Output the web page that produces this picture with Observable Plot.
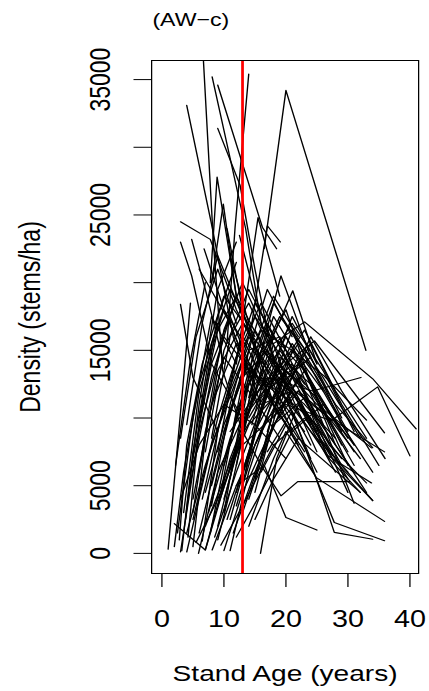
<!DOCTYPE html>
<html>
<head>
<meta charset="utf-8">
<script src="https://cdn.jsdelivr.net/npm/d3@7"></script>
<script src="https://cdn.jsdelivr.net/npm/@observablehq/plot@0.6"></script>
<style>
  html, body { margin: 0; padding: 0; background: #fff; }
</style>
</head>
<body>
<div id="chart"></div>
<script>
// ---- data: each stand is a list of [age (years), density (stems/ha)] remeasurements ----
const decliningStands = [
  [[4.0,33100],[8.1,24100],[11.5,16000],[15.5,11000]],
  [[6.6,37200],[8.3,23000],[9.8,13500],[13,9000]],
  [[8.1,35200],[13.5,24000],[16,17000],[21,11000]],
  [[9.0,34600],[16.2,24100],[18.5,22500]],
  [[9.0,31400],[12.6,27200],[15,21000],[19,12000]],
  [[10.5,15500],[11.8,24100],[14.0,35400]],
  [[7.8,20000],[8.9,27800],[12,19000]],
  [[3.0,24500],[7.8,23200],[12,18000],[17,13500]],
  [[3.0,23000],[4.8,20500],[8,14000],[13,10000]],
  [[4.8,23200],[7,19500],[10,14000]],
  [[3.0,18400],[5,13000],[9,9000]],
  [[16.5,22500],[20,34200],[32.9,15000]],
  [[14.5,17000],[17,24200],[19.1,23000]],
  [[12,14000],[15.5,24800],[19,19000]],
  [[8,20000],[9.9,25800],[12,19000]],
  [[6.8,22500],[10,18000],[15,12500]],
  [[10.5,24000],[13,18000],[17,12000]],
  [[11,22000],[14,17000],[18,11000],[22,8000]],
  [[12.5,23500],[15,19000],[20,13000]],
  [[6,21000],[11,17000],[16,11000]]
];

const youngRiseStands = [
  [[1.0,300],[4.6,18500]],
  [[2.0,2200],[7.0,250],[12,8000],[17,12000]],
  [[3.0,100],[6,9000],[10,16000],[15,13000]],
  [[4.0,100],[8,8000],[13,14000],[18,12000],[23,9000]],
  [[5.9,0],[9,6000],[14,11000],[19,14000],[25,9000]],
  [[7.0,250],[11,7000],[16,13000],[21,11000],[27,7000]],
  [[8.1,250],[12,5000],[17,10000],[22,12000],[28,8000]],
  [[10,200],[13,4500],[18,9500],[23,11500],[29,6500]],
  [[11,200],[14,6000],[19,13000],[24,10000],[30,5500]],
  [[15.9,0],[18.5,7000],[22,11000],[28,6000]],
  [[2.5,1500],[5,10000],[8,17500],[12,14000]],
  [[3.5,3000],[6,12000],[10,18000],[14,15000],[19,10000]],
  [[4.5,5000],[8,13000],[12,19000],[16,14000],[21,9000]],
  [[2.2,6500],[4.5,14000],[7,20000]],
  [[3,8500],[5.5,16000],[9,21000],[12,17000]],
  [[5,2500],[9,10000],[13,16000],[18,13000],[24,8000]],
  [[6,1500],[10,9000],[14,15000],[19,16000],[25,10000],[31,6000]],
  [[6.5,4000],[10,11000],[15,17500],[20,14000],[26,9500]],
  [[7.5,3000],[11,8500],[16,15000],[21,13000],[27,8000],[33,5200]],
  [[8.5,1200],[12,6000],[17,12000],[22,15500],[28,11000],[34,7800]],
  [[9,3500],[13,9000],[18,16000],[23,13500],[29,9000]],
  [[9.5,600],[13,3500],[18,8000],[23,10000],[28,7000],[34,3900]],
  [[10.5,2500],[14,7500],[19,14500],[24,12500],[30,8500]],
  [[11.5,1500],[15,6000],[20,11500],[25,9500],[30,4500]],
  [[12,4500],[16,10500],[21,16500],[26,13000],[32,8500]],
  [[13,3000],[17,8500],[22,13000],[26.5,7300],[33.8,5200]],
  [[13.5,6000],[17,12500],[21,17500],[25,14000]],
  [[5,4000],[8,11000],[12,15500],[17,12000],[22,8500]],
  [[6,6000],[9,13500],[13,17000],[18,14000],[23,10500],[29,7000]],
  [[7,2000],[10,5500],[15,11500],[20,16000],[25,12000]],
  [[8,5000],[12,12000],[16,16500],[21,15000],[26,11000],[31,7500]],
  [[9,7500],[12,14500],[15,18500],[20,14500],[25,10000]],
  [[10,4000],[14,10500],[18,13000],[23,11000],[28,8500]],
  [[10,9000],[13,13000],[17,15000],[22,11500],[27,7000],[32,4500]],
  [[11,5500],[14,12500],[19,17500],[24,14500],[29,10000]],
  [[12,3500],[15,8000],[20,13500],[25,11500],[30,7500]],
  [[13,5000],[16,11500],[21,14000],[26,10500],[31,6500]],
  [[7,7500],[10,15000],[14,19500],[18,16000]],
  [[4,1500],[7,6500],[11,12000],[15,16500],[20,12500],[25,7500]],
  [[5.5,800],[9,4000],[14,9500],[19,12000],[24,9000],[30,6000]],
  [[3,4000],[6,8000],[10,11000],[15,9500],[20,7000]],
  [[6,10000],[9,16500],[12,19000],[16,15500],[21,11000]],
  [[8,8500],[11,16000],[14,18500],[19,13500],[24,9500]],
  [[9,2000],[12,7500],[16,13500],[21,17000],[26,13500],[31,9000]],
  [[11,2500],[15,9000],[19,12500],[24,14500],[29,9500],[34,6000]],
  [[12,1200],[16,4500],[21,9000],[26,11000],[31,8000]],
  [[14,4000],[18,9500],[22,12000],[27,10000],[32,7000]],
  [[15,2500],[18,5500],[22,8500],[27,6500],[32,4500]],
  [[14,11500],[19.2,20500],[24,14500]],
  [[16,14000],[21.1,19400],[25,14000]],
  [[10,6500],[14,13500],[18,18500],[22,15500],[26,12000]],
  [[7,4500],[10,9500],[14,14000],[18,11000],[23,7500]],
  [[5,7000],[8,14000],[11,17500],[15,13000],[20,9500]],
  [[4,9500],[6.5,17000],[9,22000],[13,17500]],
  [[2.8,1000],[4,8000],[6.5,14000],[10,19000],[14,16500]],
  [[2,500],[3.5,6000],[6,12500],[9,17000]],
  [[3.2,200],[5,7500],[8,15500],[11,19500],[15,16000]],
  [[4.2,1200],[6,9500],[9,17500],[12,21500]],
  [[5,500],[7.5,10500],[10,16500],[13,20000],[17,16000]],
  [[6.5,900],[9,9000],[12,14500],[16,18500],[20,15000]],
  [[7.8,1500],[10,6500],[13,11500],[17,17000],[21,13500]],
  [[9,1000],[11.5,5500],[15,12500],[19,15000],[23,12500]],
  [[3.8,2500],[6,11000],[9,19500],[12,23000]],
  [[10,3000],[12.5,9500],[15,15500],[18,19000],[22,16000]],
  [[12,6500],[15,13500],[18,17500],[22,14500],[26,10500],[30,6500]],
  [[8,3500],[11,11000],[14,16000],[19,12500],[24,7000]],
  [[11,8000],[14,15000],[17,19500],[21,16000]],
  [[13,9500],[16,14500],[20,18000],[24,12500],[29,8000]],
  [[5,3000],[7,9000],[10,14500],[14,12000],[19,8500]],
  [[9.5,4500],[12,10500],[16,14500],[20,10500],[25,6000]],
  [[14,7000],[17,12000],[21,15500],[25,13000],[30,9000]],
  [[15,5500],[18,10500],[22,14500],[26,12000],[31,8000]]
];

const oldStands = [
  [[14,2000],[18,7000],[20,9000],[24.9,5600],[35.9,2360]],
  [[15,4500],[19,11500],[24,15500],[29,11000],[35,6500]],
  [[16,7000],[20,14000],[24.6,15700],[35.9,8900]],
  [[17,9000],[21,15000],[26.2,13100],[33,9850]],
  [[14.5,9500],[18,15500],[23,17100],[34,12900],[41,9200]],
  [[13,8000],[20,11000],[27.3,9800],[34.8,12300],[40,7200]],
  [[11,9000],[17,13000],[24.3,12000],[32.1,13000]],
  [[15,8000],[20,12500],[27,10000],[35.9,7500]],
  [[14,10000],[19,14000],[25,11000],[33.8,7800]],
  [[13,9000],[16,6500],[19.2,4250],[21.9,5300],[30.3,5300]],
  [[12,5000],[16.5,6500],[20,2650],[25,1720]],
  [[16,6000],[20,9500],[24.6,5860],[27.8,2280],[35.9,930]],
  [[17,7500],[21,10500],[25.2,5100],[27.8,1550],[34,1050]],
  [[16,11000],[21,12000],[27.3,7100],[34,3900]],
  [[17,12000],[22,14000],[26.5,9000],[31,3700]],
  [[18,10000],[23,13500],[28,8000],[33,4500]],
  [[19,11000],[24,16000],[29,12000],[36,7000]],
  [[18,13000],[23,16500],[28,12000],[33,8500]]
];

const xTicks = [0, 10, 20, 30, 40];
const yTicks = [0, 5000, 10000, 15000, 20000, 25000, 30000, 35000];
const yTickLabels = [0, 5000, 15000, 25000, 35000];
const referenceAge = [13];

const titleText = "(AW\u2212c)";
const xTitle = "Stand Age (years)";
const yTitle = "Density (stems/ha)";

// ---- build table ----
const rows = [];
let sid = 0;
for (const group of [decliningStands, youngRiseStands, oldStands]) {
  for (const stand of group) {
    for (const [age, density] of stand) rows.push({id: sid, age, density});
    sid++;
  }
}

// The reference image is horizontally stretched; draw in a narrower space then stretch.
const OUT_W = 429, H = 691, K = 1.25;
const W = OUT_W / K;

const chart = Plot.plot({
  width: W,
  height: H,
  marginLeft: 120.8,
  marginRight: W - 334.4,
  marginTop: 60,
  marginBottom: 118,
  x: {domain: [-1.66, 41.4]},
  y: {domain: [-1486, 36410]},
  style: {
    fontFamily: "'Liberation Sans', Arial, Helvetica, sans-serif",
    fontSize: "23px",
    color: "black",
    background: "white"
  },
  marks: [
    Plot.line(rows, {x: "age", y: "density", z: "id", stroke: "black", strokeWidth: 1.1, clip: true}),
    Plot.ruleX(referenceAge, {stroke: "#ff0000", strokeWidth: 2.2}),
    Plot.frame({stroke: "black", strokeWidth: 1}),
    Plot.axisX(xTicks, {tickSize: 14, fill: "none", label: null, stroke: "black"}),
    Plot.axisY(yTicks, {tickSize: 14, fill: "none", label: null, stroke: "black"}),
    Plot.text(xTicks, {x: d => d, text: d => String(d), frameAnchor: "bottom", dy: 37, lineAnchor: "top", fontSize: 23, fill: "black"}),
    Plot.text(yTickLabels, {y: d => d, text: d => String(d), frameAnchor: "left", dx: -40.8, rotate: -90, textAnchor: "middle", lineAnchor: "middle", fontSize: 23, fill: "black"}),
    Plot.text([xTitle], {text: d => d, frameAnchor: "bottom", dy: 92, lineAnchor: "top", fontSize: 22.5, fill: "black"}),
    Plot.text([yTitle], {text: d => d, frameAnchor: "left", dx: -97, rotate: -90, textAnchor: "middle", lineAnchor: "middle", fontSize: 23, fill: "black"}),
    Plot.text([titleText], {text: d => d, frameAnchor: "top-left", dx: 0.6, dy: -47.3, textAnchor: "start", lineAnchor: "top", fontSize: 18.5, fill: "black"})
  ]
});

chart.setAttribute("viewBox", `0 0 ${W} ${H}`);
chart.setAttribute("preserveAspectRatio", "none");
chart.setAttribute("width", OUT_W);
chart.setAttribute("height", H);
chart.style.width = OUT_W + "px";
chart.style.height = H + "px";
chart.style.maxWidth = "none";
chart.style.display = "block";
document.getElementById("chart").appendChild(chart);
</script>
</body>
</html>
